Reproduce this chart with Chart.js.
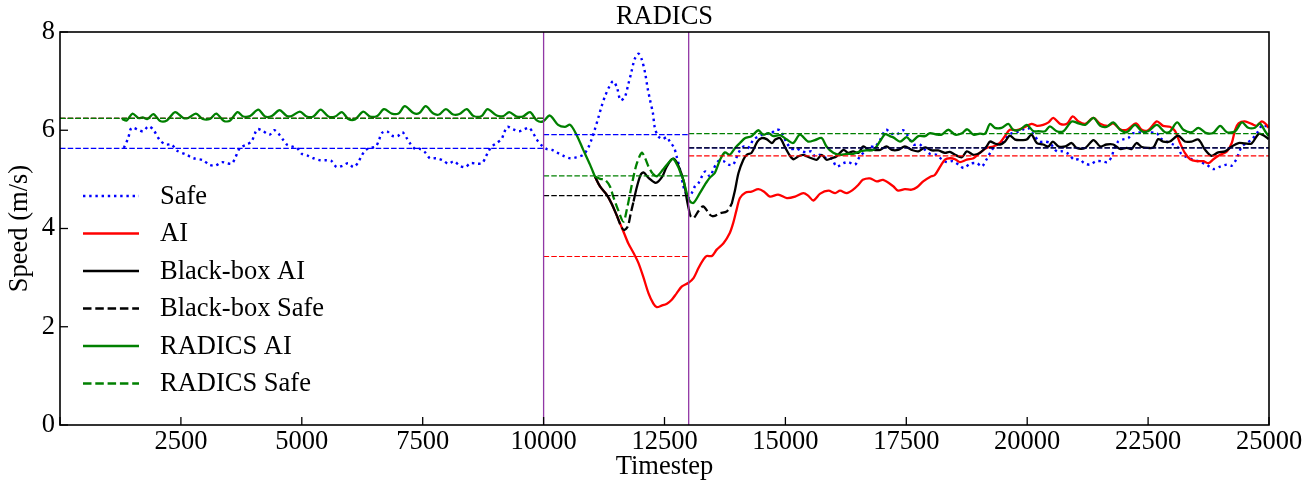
<!DOCTYPE html>
<html>
<head>
<meta charset="utf-8">
<title>RADICS</title>
<script src="https://cdn.jsdelivr.net/npm/chart.js@4.4.1/dist/chart.umd.min.js"></script>
<style>
  html, body { margin: 0; padding: 0; background: #fff; }
  canvas { display: block; }
</style>
</head>
<body>
<canvas id="radicsChart" width="1315" height="486"></canvas>
<script>
// speed (m/s) against timestep. null = controller not active
const safeT = [1320, 1410, 1480, 1620, 1720, 1830, 1930, 2070, 2190, 2310, 2410, 2620, 2760, 2960, 3080, 3210, 3340, 3450, 3550, 3620, 3720, 3860, 3960, 4080, 4200, 4330, 4430, 4510, 4610, 4690, 4790, 4900, 5000, 5130, 5240, 5380, 5500, 5620, 5720, 5850, 5960, 6070, 6170, 6220, 6310, 6410, 6530, 6600, 6650, 6760, 6860, 6980, 7080, 7170, 7240, 7340, 7440, 7550, 7650, 7780, 7910, 8030, 8150, 8260, 8380, 8490, 8620, 8730, 8790, 8860, 8930, 9030, 9130, 9180, 9250, 9370, 9490, 9600, 9700, 9790, 9860, 9960, 10060, 10170, 10270, 10410, 10550, 10680, 10820, 10920, 10990, 11060, 11130, 11200, 11270, 11360, 11440, 11520, 11590, 11680, 11750, 11810, 11880, 11960, 12030, 12100, 12150, 12200, 12260, 12300, 12370, 12460, 12550, 12610, 12700, 12750, 12820, 12890, 12940, 12990, 13080, 13130, 13200, 13340, 13440, 13510, 13610, 13720, 13820, 13920, 14030, 14130, 14230, 14340, 14480, 14580, 14680, 14790, 14890, 15030, 15130, 15230, 15340, 15440, 15540, 15610, 15720, 15850, 15960, 16060, 16200, 16300, 16440, 16540, 16650, 16750, 16850, 16960, 17080, 17200, 17310, 17430, 17510, 17650, 17780, 17890, 17990, 18130, 18230, 18340, 18460, 18580, 18690, 18820, 18960, 19060, 19150, 19270, 19370, 19470, 19580, 19680, 19780, 19920, 20020, 20130, 20260, 20370, 20470, 20610, 20730, 20850, 20970, 21080, 21180, 21300, 21420, 21540, 21660, 21750, 21790, 21880, 21970, 22090, 22190, 22440, 22680, 22750, 22880, 23020, 23130, 23170, 23260, 23400, 23540, 23710, 23850, 23990, 24130, 24230, 24320, 24370, 24440, 24540, 24640, 24750, 24870, 24990];
const safeV = [5.64, 5.84, 6.05, 6.01, 5.98, 6.08, 6.01, 5.79, 5.71, 5.71, 5.59, 5.50, 5.43, 5.39, 5.30, 5.28, 5.35, 5.33, 5.32, 5.43, 5.64, 5.71, 5.77, 6.02, 5.98, 5.91, 6.00, 5.94, 5.81, 5.71, 5.67, 5.64, 5.52, 5.48, 5.43, 5.39, 5.39, 5.37, 5.25, 5.28, 5.33, 5.25, 5.35, 5.45, 5.59, 5.64, 5.67, 5.81, 5.94, 5.98, 5.89, 5.88, 5.96, 5.84, 5.73, 5.62, 5.62, 5.55, 5.43, 5.43, 5.39, 5.32, 5.37, 5.28, 5.25, 5.33, 5.32, 5.33, 5.43, 5.57, 5.67, 5.74, 5.82, 5.94, 6.07, 6.02, 5.98, 6.02, 6.05, 5.93, 5.81, 5.69, 5.62, 5.60, 5.55, 5.48, 5.43, 5.45, 5.50, 5.64, 5.81, 6.02, 6.25, 6.49, 6.69, 6.89, 7.00, 6.86, 6.61, 6.68, 6.93, 7.16, 7.44, 7.56, 7.44, 7.16, 6.86, 6.62, 6.35, 6.05, 5.88, 5.82, 5.86, 5.77, 5.64, 5.47, 5.20, 4.86, 4.72, 4.62, 4.75, 4.86, 4.92, 5.16, 5.06, 5.20, 5.37, 5.37, 5.30, 5.30, 5.54, 5.67, 5.64, 5.81, 5.89, 5.94, 5.92, 6.00, 6.00, 5.74, 5.62, 5.63, 5.57, 5.55, 5.57, 5.47, 5.50, 5.43, 5.42, 5.26, 5.33, 5.35, 5.30, 5.47, 5.57, 5.67, 5.66, 5.81, 6.01, 5.93, 5.92, 6.00, 5.92, 5.71, 5.71, 5.60, 5.52, 5.50, 5.41, 5.35, 5.37, 5.30, 5.23, 5.32, 5.33, 5.26, 5.39, 5.60, 5.71, 5.74, 5.86, 5.94, 5.96, 6.02, 6.05, 5.91, 5.77, 5.77, 5.74, 5.57, 5.57, 5.52, 5.40, 5.41, 5.33, 5.30, 5.37, 5.37, 5.35, 5.47, 5.60, 5.77, 5.81, 5.84, 5.94, 5.95, 5.94, 5.84, 5.77, 5.71, 5.64, 5.54, 5.47, 5.41, 5.37, 5.30, 5.21, 5.26, 5.30, 5.28, 5.40, 5.52, 5.67, 5.74, 5.81, 5.94, 6.11, 6.05];

const aiT = [11060, 11170, 11310, 11410, 11520, 11650, 11750, 11860, 11960, 12060, 12170, 12270, 12340, 12440, 12550, 12650, 12750, 12860, 12990, 13100, 13200, 13300, 13370, 13480, 13580, 13720, 13850, 13920, 13990, 14060, 14170, 14300, 14440, 14560, 14680, 14850, 15030, 15200, 15370, 15470, 15580, 15720, 15890, 16030, 16130, 16270, 16400, 16510, 16600, 16750, 16890, 17020, 17230, 17330, 17470, 17610, 17720, 17850, 17990, 18090, 18200, 18300, 18400, 18510, 18610, 18750, 18890, 19020, 19160, 19300, 19440, 19540, 19640, 19780, 19920, 20090, 20200, 20330, 20440, 20540, 20680, 20820, 20940, 21060, 21200, 21370, 21510, 21670, 21780, 21920, 22060, 22250, 22370, 22500, 22680, 22810, 22950, 23060, 23160, 23260, 23370, 23500, 23640, 23750, 23850, 23990, 24130, 24230, 24300, 24370, 24500, 24640, 24750, 24850, 24950, 24990];
const aiV = [5.06, 4.85, 4.68, 4.50, 4.25, 3.94, 3.70, 3.50, 3.30, 3.02, 2.68, 2.47, 2.40, 2.43, 2.47, 2.55, 2.68, 2.82, 2.89, 2.99, 3.19, 3.36, 3.44, 3.44, 3.57, 3.70, 3.91, 4.11, 4.38, 4.62, 4.73, 4.75, 4.80, 4.75, 4.65, 4.69, 4.62, 4.65, 4.72, 4.67, 4.57, 4.71, 4.77, 4.72, 4.77, 4.72, 4.79, 4.89, 4.99, 5.02, 4.96, 4.99, 4.86, 4.77, 4.80, 4.79, 4.84, 4.96, 5.05, 5.09, 5.26, 5.40, 5.43, 5.41, 5.35, 5.40, 5.43, 5.54, 5.64, 5.67, 5.75, 5.88, 6.01, 6.00, 6.05, 6.13, 6.09, 6.11, 6.16, 6.25, 6.13, 6.13, 6.28, 6.18, 6.13, 6.25, 6.13, 6.09, 6.14, 6.02, 6.01, 6.14, 6.01, 6.00, 6.18, 6.09, 6.07, 5.98, 5.74, 5.54, 5.41, 5.37, 5.37, 5.33, 5.41, 5.50, 5.57, 5.74, 6.01, 6.14, 6.18, 6.13, 6.09, 6.18, 6.11, 6.05];

const bbAiT = [11060, 11170, 11310, 11410, 11520, 11520, 11860, 11930, 12010, 12070, 12170, 12320, 12450, 12540, 12640, 12700, 12800, 12900, 12960, 13000, 13000, 13890, 13960, 14030, 14130, 14200, 14300, 14420, 14510, 14610, 14720, 14790, 14890, 15000, 15100, 15170, 15270, 15370, 15440, 15540, 15650, 15750, 15850, 15960, 16060, 16200, 16300, 16400, 16510, 16610, 16720, 16820, 16960, 17090, 17200, 17330, 17470, 17610, 17750, 17890, 18030, 18160, 18300, 18400, 18510, 18650, 18750, 18890, 19020, 19160, 19230, 19330, 19440, 19540, 19640, 19750, 19890, 19990, 20090, 20200, 20330, 20440, 20530, 20650, 20790, 20920, 21020, 21200, 21370, 21510, 21640, 21780, 21920, 22060, 22160, 22260, 22370, 22500, 22610, 22710, 22810, 22950, 23120, 23260, 23400, 23540, 23680, 23810, 23950, 24090, 24230, 24370, 24500, 24640, 24790, 24900, 24990];
const bbAiV = [5.06, 4.85, 4.68, 4.50, 4.25, null, 4.55, 4.85, 5.10, 5.14, 5.03, 4.93, 5.05, 5.25, 5.40, 5.42, 5.25, 4.95, 4.60, 4.40, null, 4.50, 4.79, 5.13, 5.40, 5.50, 5.54, 5.77, 5.84, 5.82, 5.74, 5.81, 5.84, 5.64, 5.47, 5.41, 5.47, 5.50, 5.47, 5.43, 5.40, 5.50, 5.40, 5.43, 5.47, 5.60, 5.54, 5.57, 5.54, 5.67, 5.60, 5.60, 5.60, 5.67, 5.60, 5.60, 5.67, 5.60, 5.57, 5.65, 5.59, 5.59, 5.54, 5.56, 5.50, 5.45, 5.57, 5.50, 5.54, 5.67, 5.77, 5.73, 5.71, 5.77, 5.89, 5.81, 5.80, 5.81, 5.91, 5.74, 5.71, 5.67, 5.77, 5.67, 5.67, 5.74, 5.64, 5.64, 5.80, 5.67, 5.71, 5.71, 5.62, 5.64, 5.62, 5.74, 5.66, 5.64, 5.65, 5.82, 5.77, 5.77, 5.89, 5.77, 5.77, 5.81, 5.60, 5.48, 5.55, 5.57, 5.67, 5.74, 5.73, 5.73, 5.93, 5.89, 5.82];

const bbSafeT = [11520, 11600, 11660, 11740, 11800, 11860, 11860, 13000, 13040, 13100, 13200, 13300, 13440, 13510, 13650, 13790, 13890];
const bbSafeV = [4.25, 4.05, 3.97, 4.04, 4.30, 4.55, null, 4.40, 4.25, 4.21, 4.35, 4.45, 4.28, 4.25, 4.31, 4.35, 4.50];

const radicsAiT = [1280, 1380, 1500, 1620, 1710, 1810, 1930, 2070, 2210, 2380, 2550, 2650, 2810, 2950, 3100, 3230, 3390, 3520, 3670, 3790, 3930, 4100, 4240, 4380, 4540, 4690, 4790, 4960, 5100, 5240, 5390, 5550, 5690, 5830, 5960, 6100, 6270, 6410, 6560, 6700, 6860, 7000, 7130, 7310, 7430, 7560, 7720, 7840, 7980, 8130, 8260, 8410, 8550, 8720, 8840, 9030, 9170, 9290, 9440, 9570, 9720, 9860, 9990, 10130, 10300, 10440, 10550, 10680, 10820, 10960, 11060, 11060, 12250, 12340, 12470, 12610, 12680, 12780, 12860, 12890, 12960, 13030, 13100, 13230, 13340, 13440, 13540, 13650, 13750, 13850, 13960, 14060, 14170, 14300, 14440, 14540, 14650, 14750, 14890, 15030, 15160, 15300, 15470, 15610, 15750, 15850, 15990, 16130, 16270, 16400, 16540, 16680, 16820, 16960, 17060, 17160, 17240, 17370, 17510, 17610, 17750, 17890, 17990, 18130, 18230, 18370, 18510, 18650, 18760, 18890, 19020, 19130, 19230, 19330, 19470, 19610, 19710, 19850, 19990, 20130, 20230, 20370, 20470, 20610, 20750, 20920, 21060, 21200, 21370, 21510, 21640, 21780, 21920, 22060, 22230, 22370, 22500, 22680, 22850, 22950, 23100, 23230, 23400, 23540, 23710, 23850, 23990, 24130, 24300, 24440, 24570, 24710, 24810, 24920, 24990];
const radicsAiV = [6.23, 6.20, 6.34, 6.25, 6.26, 6.23, 6.33, 6.19, 6.20, 6.37, 6.25, 6.25, 6.34, 6.23, 6.23, 6.34, 6.19, 6.20, 6.37, 6.28, 6.29, 6.42, 6.28, 6.29, 6.41, 6.29, 6.29, 6.38, 6.28, 6.28, 6.42, 6.28, 6.28, 6.37, 6.23, 6.22, 6.38, 6.28, 6.29, 6.43, 6.34, 6.34, 6.49, 6.35, 6.35, 6.49, 6.34, 6.32, 6.43, 6.32, 6.33, 6.43, 6.29, 6.29, 6.43, 6.30, 6.29, 6.37, 6.28, 6.28, 6.37, 6.20, 6.18, 6.30, 6.11, 6.07, 6.11, 5.91, 5.60, 5.30, 5.06, null, 5.12, 5.06, 5.20, 5.37, 5.42, 5.26, 5.06, 4.99, 4.72, 4.55, 4.52, 4.72, 4.90, 5.04, 5.13, 5.40, 5.55, 5.50, 5.64, 5.74, 5.84, 5.88, 6.00, 5.91, 5.94, 5.88, 5.90, 5.81, 5.74, 5.91, 5.77, 5.80, 5.84, 5.67, 5.54, 5.50, 5.52, 5.52, 5.57, 5.59, 5.60, 5.78, 5.92, 5.88, 5.85, 5.77, 5.86, 5.77, 5.88, 5.88, 5.94, 5.91, 5.91, 6.01, 5.91, 5.94, 6.02, 5.91, 5.93, 5.93, 6.13, 6.05, 6.05, 6.13, 6.01, 6.01, 6.11, 5.98, 5.98, 5.98, 6.08, 5.98, 5.98, 6.18, 6.14, 6.11, 6.25, 6.09, 6.07, 6.16, 6.01, 5.96, 6.11, 5.98, 5.98, 6.11, 5.96, 5.97, 6.16, 6.01, 5.96, 6.05, 5.94, 5.95, 6.09, 5.96, 5.98, 6.16, 6.05, 6.05, 6.14, 5.98, 5.88];

const radicsSafeT = [11060, 11170, 11270, 11370, 11440, 11540, 11650, 11720, 11790, 11860, 11930, 12030, 12100, 12170, 12250];
const radicsSafeV = [5.06, 5.01, 4.99, 4.86, 4.65, 4.38, 4.14, 4.38, 4.72, 5.06, 5.33, 5.54, 5.43, 5.26, 5.12];

// phase means (dashed thin lines): before, during and after the attack window
const meanBounds = [0, 10000, 13000, 25000];
const meanSafe = [5.63, 5.91, 5.64];
const meanAI = [6.24, 3.43, 5.48];
const meanBlackBox = [6.24, 4.67, 5.64];
const meanRadics = [6.24, 5.07, 5.93];

const attackWindow = [10000, 13000];

const SERIF = "'Liberation Serif', 'Times New Roman', serif";
const FONT_SIZE = 26.5;
const FONT = { family: SERIF, size: FONT_SIZE, weight: 'normal' };

function pts(ts, vs) {
  return ts.map((t, i) => ({ x: t, y: vs[i] }));
}

function meanPts(vals) {
  const out = [];
  vals.forEach((v, i) => {
    out.push({ x: meanBounds[i], y: v }, { x: meanBounds[i + 1], y: v }, { x: meanBounds[i + 1], y: null });
  });
  return out;
}

const SOLID = 2.3;
const DASH = [8.5, 3.8];
const DOT = [2.4, 3.8];
const THIN = [5.5, 2.2];

const datasets = [
  { label: 'Safe', data: pts(safeT, safeV), borderColor: '#0000ff', borderWidth: 2.4, borderDash: DOT, order: 10, legend: true },
  { label: 'AI', data: pts(aiT, aiV), borderColor: '#ff0000', borderWidth: SOLID, order: 9, legend: true },
  { label: 'Black-box AI', data: pts(bbAiT, bbAiV), borderColor: '#000000', borderWidth: SOLID, order: 8, legend: true },
  { label: 'Black-box Safe', data: pts(bbSafeT, bbSafeV), borderColor: '#000000', borderWidth: SOLID, borderDash: DASH, order: 7, legend: true },
  { label: 'RADICS AI', data: pts(radicsAiT, radicsAiV), borderColor: '#008000', borderWidth: SOLID, order: 6, legend: true },
  { label: 'RADICS Safe', data: pts(radicsSafeT, radicsSafeV), borderColor: '#008000', borderWidth: SOLID, borderDash: DASH, order: 5, legend: true },
  { label: 'mean Safe', data: meanPts(meanSafe), borderColor: '#0000ff', borderWidth: 1.2, borderDash: THIN, tension: 0, order: 4 },
  { label: 'mean AI', data: meanPts(meanAI), borderColor: '#ff0000', borderWidth: 1.2, borderDash: THIN, tension: 0, order: 3 },
  { label: 'mean Black-box', data: meanPts(meanBlackBox), borderColor: '#000000', borderWidth: 1.2, borderDash: THIN, tension: 0, order: 2 },
  { label: 'mean RADICS', data: meanPts(meanRadics), borderColor: '#008000', borderWidth: 1.2, borderDash: THIN, tension: 0, order: 1 }
];

// title over the plot, attack window, inward ticks, frame and the in-plot legend
const decorations = {
  id: 'decorations',
  afterDatasetsDraw(chart) {
    const { ctx, chartArea: a, scales: { x, y } } = chart;
    const seg = (x1, y1, x2, y2) => { ctx.beginPath(); ctx.moveTo(x1, y1); ctx.lineTo(x2, y2); ctx.stroke(); };
    ctx.save();
    ctx.setLineDash([]);

    ctx.strokeStyle = 'rgb(145,55,165)';
    ctx.lineWidth = 1.3;
    attackWindow.forEach(t => { const px = x.getPixelForValue(t); seg(px, a.top, px, a.bottom); });

    ctx.strokeStyle = '#000';
    ctx.lineWidth = 1.3;
    x.ticks.forEach(tk => { const px = x.getPixelForValue(tk.value); seg(px, a.bottom, px, a.bottom - 8); });
    y.ticks.forEach(tk => { const py = y.getPixelForValue(tk.value); seg(a.left, py, a.left + 8, py); });
    ctx.lineWidth = 1.6;
    ctx.strokeRect(a.left, a.top, a.right - a.left, a.bottom - a.top);

    ctx.font = FONT_SIZE + 'px ' + SERIF;
    ctx.textBaseline = 'middle';
    ctx.fillStyle = '#000';
    ctx.textAlign = 'center';
    ctx.fillText('RADICS', (a.left + a.right) / 2, 17);

    // legend
    ctx.textAlign = 'left';
    chart.data.datasets.filter(d => d.legend).forEach((d, i) => {
      const cy = 196 + i * 37.5;
      ctx.strokeStyle = d.borderColor;
      ctx.lineWidth = d.borderWidth;
      ctx.setLineDash(d.borderDash || []);
      seg(83, cy, 139, cy);
      ctx.fillText(d.label, 160, cy + 1);
    });
    ctx.restore();
  }
};

new Chart(document.getElementById('radicsChart').getContext('2d'), {
  type: 'line',
  data: { datasets },
  options: {
    responsive: false,
    animation: false,
    devicePixelRatio: 1,
    elements: {
      point: { radius: 0 },
      line: { tension: 0.3, fill: false, borderCapStyle: 'butt' }
    },
    spanGaps: false,
    layout: { padding: { left: 0, right: 46, top: 32, bottom: 0 } },
    plugins: {
      legend: { display: false },
      tooltip: { enabled: false },
      title: { display: false }
    },
    scales: {
      x: {
        type: 'linear',
        min: 0,
        max: 25000,
        afterFit: s => { s.height = 61; },
        grid: { display: false, drawTicks: false },
        border: { display: false },
        ticks: {
          stepSize: 2500,
          autoSkip: false,
          maxRotation: 0,
          padding: 1,
          color: '#000',
          font: FONT,
          callback: v => (v === 0 ? '' : String(v))
        },
        title: { display: true, text: 'Timestep', color: '#000', font: FONT, padding: { top: 0, bottom: 3 } }
      },
      y: {
        min: 0,
        max: 8,
        afterFit: s => { s.width = 60; },
        grid: { display: false, drawTicks: false },
        border: { display: false },
        ticks: { stepSize: 2, padding: 5, color: '#000', font: FONT },
        title: { display: true, text: 'Speed (m/s)', color: '#000', font: FONT, padding: { top: 4, bottom: 0 } }
      }
    }
  },
  plugins: [decorations]
});
</script>
</body>
</html>
